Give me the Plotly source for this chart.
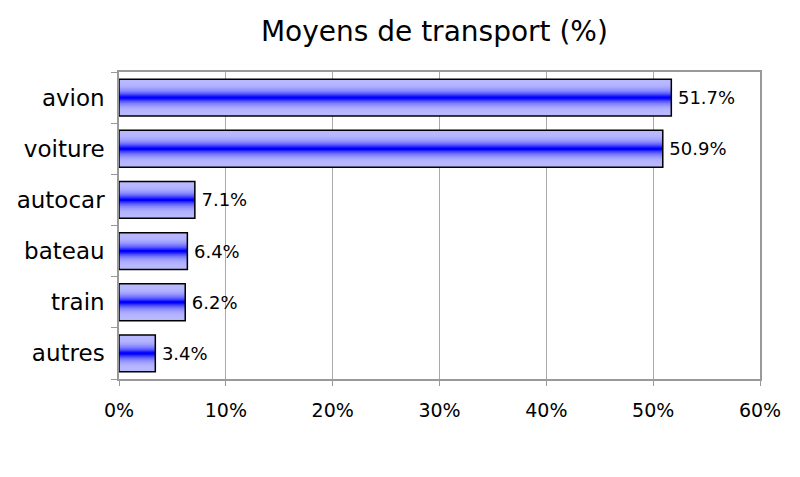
import plotly.graph_objects as go

categories = ["avion", "voiture", "autocar", "bateau", "train", "autres"]
values = [51.7, 50.9, 7.1, 6.4, 6.2, 3.4]
labels = ["51.7%", "50.9%", "7.1%", "6.4%", "6.2%", "3.4%"]

FONT = "DejaVu Sans"
BAR_W = 0.72
N_LAYERS = 16

fig = go.Figure()

# fake a vertical gradient: stacked overlay bars, light at the edges, pure blue in the middle
for i in range(N_LAYERS):
    t = i / (N_LAYERS - 1)
    light = int(185 * (1 - t ** 3))
    fig.add_trace(go.Bar(
        y=categories, x=values, orientation="h",
        width=BAR_W * (1 - i / N_LAYERS),
        marker=dict(color=f"rgb({light},{light},255)", line=dict(width=0)),
        hoverinfo="skip", showlegend=False,
    ))

# outline + value labels on top
fig.add_trace(go.Bar(
    y=categories, x=values, orientation="h", width=BAR_W,
    marker=dict(color="rgba(0,0,0,0)", line=dict(color="black", width=1.5)),
    text=["\u2009" + s for s in labels], textposition="outside", cliponaxis=False,
    textfont=dict(family=FONT, size=18, color="black"),
    showlegend=False,
))

# page body has an 8px margin, so margins are trimmed to land the plot area where it should be
fig.update_layout(
    width=800, height=477,
    barmode="overlay",
    paper_bgcolor="white", plot_bgcolor="white",
    margin=dict(l=111, r=48, t=64, b=106),
    font=dict(family=FONT, color="black"),
    title=dict(text="Moyens de transport (%)", x=0.533, xanchor="center",
               y=1 - 23 / 477, yanchor="middle",
               font=dict(family=FONT, size=28, color="black")),
)

fig.update_xaxes(
    range=[0, 60], dtick=10, ticksuffix="%",
    showgrid=True, gridcolor="#aaaaaa", gridwidth=1,
    showline=True, linecolor="#999999", linewidth=1.5, mirror=True,
    ticks="outside", ticklen=5, tickcolor="#999999",
    tickfont=dict(family=FONT, size=19), ticklabelstandoff=8,
    zeroline=False, automargin=False,
)
fig.update_yaxes(
    categoryorder="array", categoryarray=categories[::-1],
    showline=True, linecolor="#999999", linewidth=1.5, mirror=True,
    ticks="outside", ticklen=6, tickcolor="#999999", tickson="boundaries",
    tickfont=dict(family=FONT, size=23), ticklabelstandoff=8,
    showgrid=False, automargin=False,
)

fig.write_html("out.html")
